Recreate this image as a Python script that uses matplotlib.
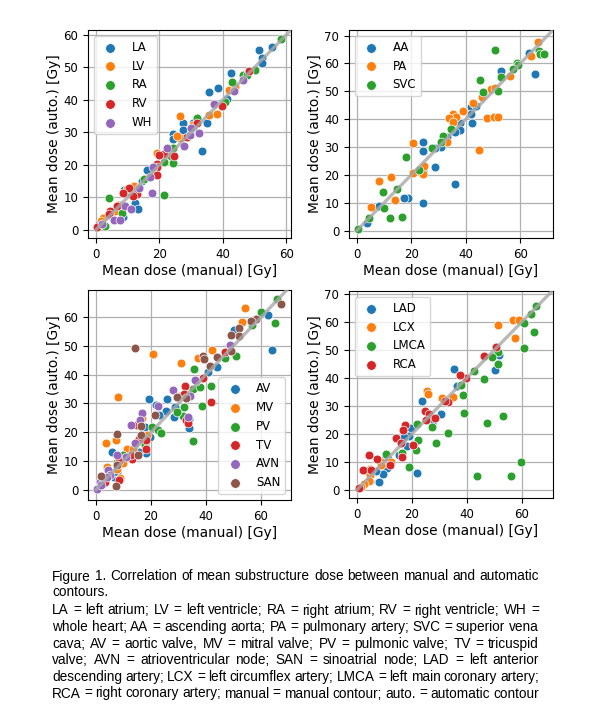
import matplotlib
matplotlib.use("Agg")
import matplotlib.pyplot as plt

# ---------------- data ----------------
# panel 1: chambers
la_x = [55.5, 51.3, 52.3, 52.3, 42.5, 38.6, 35.5, 41.3, 34.9, 30.5, 27.6, 27.6, 24.2, 24.4, 33.5, 16.0, 14.5, 13.7, 8.8, 9.9, 12.3, 13.4, 8.4, 7.6, 3.9, 1.0]
la_y = [56.2, 55.2, 52.8, 51.3, 48.2, 43.8, 42.3, 40.3, 32.8, 32.8, 33.0, 30.8, 29.5, 27.9, 24.3, 18.3, 14.9, 13.3, 12.3, 11.6, 8.4, 6.4, 3.9, 7.7, 4.6, 1.8]
lv_x = [41.8, 43.9, 26.5, 35.5, 38.1, 26.5, 25.5, 30.5, 12.0, 9.9, 7.0, 6.0, 2.3, 1.5, 2.3, 19.2]
lv_y = [42.9, 43.9, 34.9, 35.2, 35.7, 28.2, 29.0, 32.3, 13.5, 12.5, 7.6, 5.8, 3.6, 2.6, 1.8, 23.6]
ra_x = [58.4, 50.2, 46.5, 47.6, 42.8, 40.7, 32.0, 30.7, 23.6, 24.4, 21.6, 21.5, 4.2, 2.8, 18.6, 15.3, 24.4, 8.1]
ra_y = [58.7, 49.2, 47.7, 47.7, 45.5, 39.5, 34.4, 31.3, 22.8, 20.5, 21.0, 10.8, 9.7, 1.3, 17.9, 15.7, 25.1, 5.3]
rv_x = [48.4, 39.7, 32.0, 28.6, 24.7, 21.5, 19.8, 19.4, 19.2, 19.4, 10.3, 8.4, 12.8, 11.8, 6.5, 4.4, 4.0, 0.4]
rv_y = [49.0, 38.2, 32.8, 28.5, 22.8, 23.4, 23.1, 20.3, 19.4, 16.9, 12.8, 11.3, 11.0, 10.3, 7.2, 5.9, 4.9, 1.0]
wh_x = [46.5, 37.1, 43.4, 32.6, 29.5, 27.8, 22.5, 17.6, 17.1, 18.1, 13.5, 9.2, 10.9, 5.7, 7.6, 1.8, 29.9]
wh_y = [46.2, 38.7, 42.8, 29.9, 29.2, 25.9, 25.1, 11.3, 16.4, 19.5, 12.8, 7.2, 6.4, 3.1, 3.1, 1.8, 31.3]

# panel 2: great vessels
aa_x = [63.1, 65.5, 53.0, 42.0, 43.7, 42.0, 42.2, 38.0, 37.8, 35.9, 33.1, 30.9, 28.8, 24.2, 24.2, 24.2, 28.8, 36.1, 24.5, 19.0, 17.4, 8.3, 3.7]
aa_y = [63.7, 56.1, 57.4, 44.3, 44.8, 41.8, 38.8, 38.8, 36.1, 35.5, 33.5, 30.2, 29.6, 31.9, 28.6, 21.8, 23.0, 16.6, 9.8, 11.6, 11.6, 8.9, 2.9]
pa_x = [66.4, 63.9, 56.1, 49.2, 50.8, 45.9, 42.6, 38.9, 35.3, 36.5, 34.0, 35.5, 47.8, 50.2, 51.7, 44.9, 33.1, 20.8, 20.6, 24.5, 24.7, 12.5, 8.3, 14.1, 5.1]
pa_y = [67.6, 62.5, 55.5, 50.9, 51.3, 48.1, 45.7, 43.1, 41.8, 40.9, 40.3, 39.1, 40.3, 40.7, 40.9, 29.1, 31.7, 31.4, 20.6, 20.3, 23.3, 19.1, 17.9, 11.2, 8.6]
svc_x = [50.9, 66.7, 67.1, 68.6, 58.8, 59.0, 57.2, 52.9, 51.7, 46.5, 45.1, 34.5, 31.6, 27.6, 31.0, 18.1, 23.0, 14.7, 9.8, 10.0, 12.2, 16.5, 4.7, 0.5]
svc_y = [64.9, 64.6, 63.3, 63.4, 60.3, 59.5, 57.9, 55.0, 50.1, 49.9, 54.1, 36.4, 34.1, 29.6, 31.9, 26.3, 21.8, 15.0, 14.0, 8.3, 4.4, 5.0, 4.4, 0.8]

# panel 3: valves and nodes
av_x = [62.4, 63.9, 50.2, 43.9, 40.6, 19.3, 25.7, 28.8, 25.5, 23.0, 28.5, 33.9, 33.7, 21.8, 17.8, 18.2, 5.7, 8.7, 6.5, 2.4, 7.5, 15.5, 19.6]
av_y = [60.6, 48.6, 55.5, 42.6, 40.9, 31.6, 31.6, 28.9, 27.5, 26.0, 25.4, 24.5, 21.3, 29.5, 21.9, 12.8, 13.2, 9.7, 4.4, 2.1, 6.2, 13.2, 18.4]
mv_x = [54.2, 53.0, 37.2, 42.1, 20.6, 30.8, 7.9, 16.6, 3.5, 7.3, 11.2, 13.6, 18.7, 8.7, 7.8, 3.9, 9.7]
mv_y = [63.3, 58.3, 45.8, 48.4, 47.0, 44.0, 32.2, 24.8, 16.3, 17.2, 14.3, 14.0, 19.0, 4.1, 7.3, 7.7, 9.3]
pv_x = [65.9, 60.0, 65.1, 56.8, 50.9, 46.9, 35.6, 35.4, 37.8, 38.4, 41.8, 32.0, 31.8, 30.5, 35.2, 20.2, 22.7, 23.5, 17.8, 9.7, 7.8, 29.3]
pv_y = [66.2, 61.9, 58.0, 57.1, 46.4, 45.6, 41.9, 35.0, 35.7, 29.1, 36.1, 28.7, 25.6, 32.4, 17.0, 21.9, 20.7, 19.8, 15.5, 12.0, 9.7, 27.1]
tv_x = [46.9, 38.8, 41.7, 32.4, 32.1, 32.9, 33.3, 14.8, 18.2, 18.2, 13.0, 12.6, 8.2, 8.5, 3.3, 15.8]
tv_y = [47.8, 38.8, 30.3, 36.1, 33.2, 24.2, 23.1, 22.5, 17.2, 14.3, 10.8, 12.0, 9.9, 3.5, 2.7, 17.5]
avn_x = [48.7, 36.4, 36.0, 28.1, 22.7, 33.6, 34.2, 12.6, 16.6, 16.0, 14.2, 10.9, 7.8, 4.5, 5.1, 1.5, 0.5, 1.7, 3.9]
avn_y = [50.4, 37.6, 38.2, 34.7, 29.1, 25.4, 32.4, 22.5, 26.6, 24.2, 16.1, 11.4, 12.0, 6.8, 5.0, 2.7, 0.3, 1.5, 4.4]
san_x = [14.2, 67.3, 58.2, 56.2, 52.1, 52.1, 49.0, 49.0, 39.0, 39.4, 41.5, 43.9, 32.7, 29.3, 21.5, 16.4, 16.4, 15.4, 7.8, 7.3, 1.8, 7.8]
san_y = [49.3, 64.4, 59.2, 58.6, 56.3, 53.4, 53.9, 48.1, 46.4, 45.4, 43.1, 46.1, 31.8, 32.2, 26.0, 22.1, 19.0, 12.0, 19.3, 1.2, 4.7, 8.5]

# panel 4: coronary arteries
lad_x = [51.8, 50.2, 35.3, 36.5, 23.5, 30.6, 27.2, 19.6, 19.0, 17.1, 18.1, 15.3, 21.8, 11.3, 11.0, 9.6, 7.9, 7.1, 4.9, 9.8]
lad_y = [48.2, 42.9, 43.1, 37.1, 31.9, 27.0, 24.0, 22.0, 19.3, 18.7, 15.5, 12.5, 6.0, 11.1, 7.7, 5.6, 2.7, 6.8, 3.0, 10.5]
lcx_x = [56.6, 58.8, 51.2, 57.3, 46.3, 25.5, 25.7, 31.0, 35.1, 12.2, 8.6, 8.6, 3.7, 4.7, 4.3, 2.4, 1.6, 4.9]
lcx_y = [60.5, 60.5, 58.7, 54.2, 47.9, 35.4, 34.2, 32.7, 33.3, 10.1, 10.1, 8.9, 6.9, 5.4, 3.0, 2.1, 1.2, 7.4]
lmca_x = [65.1, 63.3, 60.6, 64.3, 60.6, 51.4, 51.2, 49.2, 42.5, 46.2, 37.7, 38.6, 39.0, 47.4, 53.0, 33.1, 28.8, 22.3, 22.0, 27.3, 21.4, 16.5, 19.0, 10.4, 43.7, 56.0, 59.6]
lmca_y = [65.5, 62.9, 59.5, 56.5, 50.6, 49.4, 45.0, 47.6, 42.5, 39.6, 37.5, 33.9, 27.4, 23.8, 26.4, 20.2, 16.7, 17.9, 23.5, 22.6, 14.3, 13.3, 8.3, 12.9, 4.8, 5.1, 9.9]
rca_x = [50.6, 46.3, 39.6, 37.3, 33.1, 32.1, 24.9, 26.1, 25.2, 28.4, 20.2, 17.5, 16.8, 14.1, 15.9, 16.5, 7.3, 12.0, 4.3, 2.2, 0.6, 5.1]
rca_y = [51.0, 47.9, 39.9, 41.1, 31.5, 31.9, 28.3, 27.0, 24.8, 25.6, 16.1, 23.0, 21.2, 18.5, 16.7, 11.7, 11.1, 8.9, 12.5, 7.1, 0.8, 7.1]

panels = [
    [("LA", la_x, la_y), ("LV", lv_x, lv_y), ("RA", ra_x, ra_y), ("RV", rv_x, rv_y), ("WH", wh_x, wh_y)],
    [("AA", aa_x, aa_y), ("PA", pa_x, pa_y), ("SVC", svc_x, svc_y)],
    [("AV", av_x, av_y), ("MV", mv_x, mv_y), ("PV", pv_x, pv_y), ("TV", tv_x, tv_y), ("AVN", avn_x, avn_y), ("SAN", san_x, san_y)],
    [("LAD", lad_x, lad_y), ("LCX", lcx_x, lcx_y), ("LMCA", lmca_x, lmca_y), ("RCA", rca_x, rca_y)],
]
xlimits = [(-2.5, 61.5), (-2.8, 72.0), (-2.9, 70.9), (-2.9, 71.3)]
ylimits = [(-2.5, 61.5), (-2.6, 72.0), (-3.6, 69.4), (-2.9, 71.0)]
legend_loc = ["upper left", "upper left", "lower right", "upper left"]

caption = [
    ("Figure 1. Correlation of mean substructure dose between manual and automatic", True),
    ("contours.", False),
    ("LA = left atrium; LV = left ventricle; RA = right atrium; RV = right ventricle; WH =", True),
    ("whole heart; AA = ascending aorta; PA = pulmonary artery; SVC = superior vena", True),
    ("cava; AV = aortic valve, MV = mitral valve; PV = pulmonic valve; TV = tricuspid", True),
    ("valve; AVN = atrioventricular node; SAN = sinoatrial node; LAD = left anterior", True),
    ("descending artery; LCX = left circumflex artery; LMCA = left main coronary artery;", True),
    ("RCA = right coronary artery; manual = manual contour; auto. = automatic contour", True),
]
# baselines in pixels from the top
caption_y = [580.5, 596.0, 614.5, 631.2, 647.8, 664.5, 680.8, 697.5]

# ---------------- figure ----------------
W, H = 600, 725
fig = plt.figure(figsize=(W / 100, H / 100), dpi=100)

# axes boxes in pixels: left, top, right, bottom
boxes = [(88, 30, 291, 238), (349, 30, 553, 238), (88, 290, 291, 500), (349, 291, 553, 498)]
colors = plt.rcParams["axes.prop_cycle"].by_key()["color"]

for i, groups in enumerate(panels):
    l, t, r, b = boxes[i]
    ax = fig.add_axes([l / W, 1 - b / H, (r - l) / W, (b - t) / H])
    ax.grid(True, color="#b0b0b0", lw=0.9)
    ax.set_axisbelow(True)
    for j, (name, xs, ys) in enumerate(groups):
        ax.scatter(xs, ys, s=40, color=colors[j], edgecolor="white", linewidth=0.5, label=name, zorder=2)
    hi = max(xlimits[i][1], ylimits[i][1])
    ax.plot([0, hi + 5], [0, hi + 5], color="#a8a8a8", lw=2.4, alpha=0.8, zorder=3)
    ax.set_xlim(*xlimits[i])
    ax.set_ylim(*ylimits[i])
    ax.tick_params(labelsize=8.5)
    ax.set_xlabel("Mean dose (manual) [Gy]", fontsize=9.9, labelpad=2)
    ax.set_ylabel("Mean dose (auto.) [Gy]", fontsize=9.9, labelpad=2)
    ax.legend(loc=legend_loc[i], fontsize=8.5, markerscale=1.1)

# caption, justified like the source document
renderer = fig.canvas.get_renderer()
cap_font = dict(fontsize=9.8, family="Liberation Sans", va="baseline", ha="left")
x0, x1 = 52, 539
for (line, justify), ypx in zip(caption, caption_y):
    yf = 1 - ypx / H
    if not justify:
        fig.text(x0 / W, yf, line, **cap_font)
        continue
    words = line.split(" ")
    widths = []
    for w in words:
        tmp = fig.text(0, 0, w, **cap_font)
        widths.append(tmp.get_window_extent(renderer).width)
        tmp.remove()
    gap = (x1 - x0 - sum(widths)) / (len(words) - 1)
    x = x0
    for w, wd in zip(words, widths):
        fig.text(x / W, yf, w, **cap_font)
        x += wd + gap

fig.savefig("out.png", dpi=100)
